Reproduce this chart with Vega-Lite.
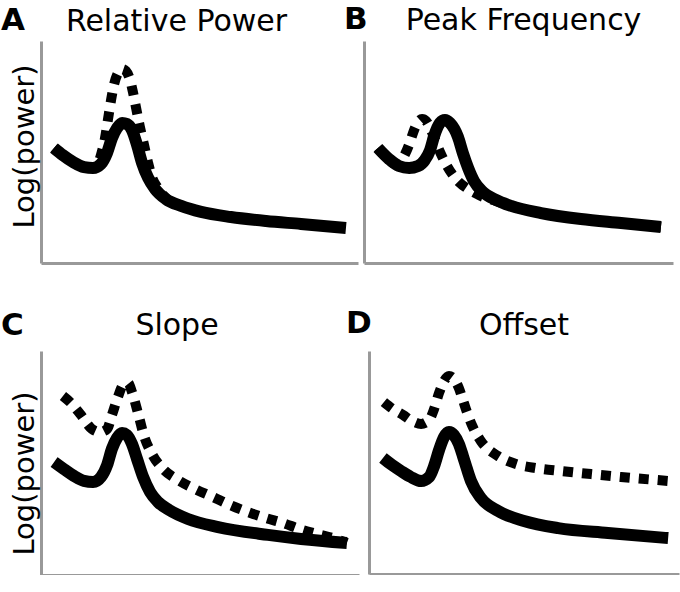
{
  "$schema": "https://vega.github.io/schema/vega-lite/v6.json",
  "padding": {"left": 0, "top": 4, "right": 0, "bottom": 0},
  "config": {
    "view": {"stroke": null},
    "axis": {"domainColor": "#999999", "domainWidth": 3, "ticks": false, "labels": false, "grid": false, "title": null,
      "titleFont": "DejaVu Sans", "titleFontSize": 29, "titleFontWeight": "normal", "titleColor": "black", "titlePadding": 2},
    "title": {"font": "DejaVu Sans", "fontSize": 30, "fontWeight": "normal", "color": "black", "frame": "group", "anchor": "middle", "baseline": "alphabetic"},
    "line": {"interpolate": "monotone", "color": "black"}
  },
  "datasets": {
    "curves": [
    {"p":"A","s":"solid","x":4.1,"y":51.8},{"p":"A","s":"solid","x":6.9,"y":48.6},{"p":"A","s":"solid","x":10.1,"y":45.5},{"p":"A","s":"solid","x":13.6,"y":43.2},{"p":"A","s":"solid","x":16.4,"y":42.8},{"p":"A","s":"solid","x":18.9,"y":44.6},{"p":"A","s":"solid","x":20.8,"y":49.5},{"p":"A","s":"solid","x":22.4,"y":56.3},{"p":"A","s":"solid","x":24.0,"y":60.8},{"p":"A","s":"solid","x":25.6,"y":63.1},{"p":"A","s":"solid","x":27.1,"y":62.6},{"p":"A","s":"solid","x":28.7,"y":59.9},{"p":"A","s":"solid","x":30.3,"y":53.2},{"p":"A","s":"solid","x":31.9,"y":45.0},{"p":"A","s":"solid","x":33.8,"y":38.3},{"p":"A","s":"solid","x":36.0,"y":33.3},{"p":"A","s":"solid","x":39.4,"y":28.8},{"p":"A","s":"solid","x":44.2,"y":25.7},{"p":"A","s":"solid","x":50.5,"y":23.0},{"p":"A","s":"solid","x":59.9,"y":20.7},{"p":"A","s":"solid","x":71.0,"y":18.9},{"p":"A","s":"solid","x":82.0,"y":17.6},{"p":"A","s":"solid","x":96.2,"y":15.8},
    {"p":"A","s":"dashed","x":4.1,"y":51.8},{"p":"A","s":"dashed","x":6.9,"y":48.6},{"p":"A","s":"dashed","x":10.1,"y":45.5},{"p":"A","s":"dashed","x":13.6,"y":43.2},{"p":"A","s":"dashed","x":16.4,"y":42.8},{"p":"A","s":"dashed","x":17.7,"y":44.1},{"p":"A","s":"dashed","x":18.9,"y":48.6},{"p":"A","s":"dashed","x":20.2,"y":56.3},{"p":"A","s":"dashed","x":21.1,"y":64.4},{"p":"A","s":"dashed","x":22.1,"y":73.4},{"p":"A","s":"dashed","x":23.0,"y":80.2},{"p":"A","s":"dashed","x":24.3,"y":85.6},{"p":"A","s":"dashed","x":25.6,"y":87.4},{"p":"A","s":"dashed","x":26.8,"y":86.5},{"p":"A","s":"dashed","x":28.1,"y":82.4},{"p":"A","s":"dashed","x":29.0,"y":77.0},{"p":"A","s":"dashed","x":30.0,"y":69.8},{"p":"A","s":"dashed","x":31.2,"y":61.3},{"p":"A","s":"dashed","x":32.5,"y":53.2},{"p":"A","s":"dashed","x":33.8,"y":45.0},{"p":"A","s":"dashed","x":35.0,"y":38.7},{"p":"A","s":"dashed","x":36.9,"y":33.8},{"p":"A","s":"dashed","x":39.4,"y":29.3},{"p":"A","s":"dashed","x":44.2,"y":25.7},{"p":"A","s":"dashed","x":50.5,"y":23.0},{"p":"A","s":"dashed","x":59.9,"y":20.7},{"p":"A","s":"dashed","x":71.0,"y":18.9},{"p":"A","s":"dashed","x":82.0,"y":17.6},{"p":"A","s":"dashed","x":96.2,"y":15.8},
    {"p":"B","s":"solid","x":4.5,"y":51.8},{"p":"B","s":"solid","x":8.1,"y":46.8},{"p":"B","s":"solid","x":11.3,"y":43.7},{"p":"B","s":"solid","x":14.6,"y":42.8},{"p":"B","s":"solid","x":17.5,"y":43.7},{"p":"B","s":"solid","x":19.7,"y":46.4},{"p":"B","s":"solid","x":21.4,"y":50.9},{"p":"B","s":"solid","x":22.7,"y":57.2},{"p":"B","s":"solid","x":24.6,"y":63.1},{"p":"B","s":"solid","x":26.2,"y":64.4},{"p":"B","s":"solid","x":27.8,"y":63.1},{"p":"B","s":"solid","x":30.4,"y":56.8},{"p":"B","s":"solid","x":32.0,"y":49.5},{"p":"B","s":"solid","x":33.7,"y":42.8},{"p":"B","s":"solid","x":35.6,"y":36.9},{"p":"B","s":"solid","x":38.5,"y":32.0},{"p":"B","s":"solid","x":42.7,"y":28.4},{"p":"B","s":"solid","x":47.6,"y":25.7},{"p":"B","s":"solid","x":57.3,"y":22.5},{"p":"B","s":"solid","x":70.2,"y":19.8},{"p":"B","s":"solid","x":83.2,"y":18.0},{"p":"B","s":"solid","x":96.1,"y":16.2},
    {"p":"B","s":"dashed","x":4.5,"y":51.8},{"p":"B","s":"dashed","x":7.4,"y":47.3},{"p":"B","s":"dashed","x":10.0,"y":44.6},{"p":"B","s":"dashed","x":11.7,"y":45.5},{"p":"B","s":"dashed","x":13.3,"y":49.1},{"p":"B","s":"dashed","x":14.9,"y":54.5},{"p":"B","s":"dashed","x":16.2,"y":59.9},{"p":"B","s":"dashed","x":17.5,"y":63.5},{"p":"B","s":"dashed","x":18.8,"y":64.9},{"p":"B","s":"dashed","x":20.1,"y":64.0},{"p":"B","s":"dashed","x":21.4,"y":60.8},{"p":"B","s":"dashed","x":23.0,"y":55.4},{"p":"B","s":"dashed","x":24.6,"y":50.0},{"p":"B","s":"dashed","x":26.5,"y":44.6},{"p":"B","s":"dashed","x":28.5,"y":40.1},{"p":"B","s":"dashed","x":30.7,"y":36.5},{"p":"B","s":"dashed","x":33.7,"y":33.3},{"p":"B","s":"dashed","x":37.2,"y":30.6},{"p":"B","s":"dashed","x":42.7,"y":27.9},{"p":"B","s":"dashed","x":47.6,"y":25.7},{"p":"B","s":"dashed","x":57.3,"y":22.5},{"p":"B","s":"dashed","x":70.2,"y":19.8},{"p":"B","s":"dashed","x":83.2,"y":18.0},{"p":"B","s":"dashed","x":96.1,"y":16.2},
    {"p":"C","s":"solid","x":4.1,"y":50.4},{"p":"C","s":"solid","x":7.2,"y":47.3},{"p":"C","s":"solid","x":10.4,"y":44.2},{"p":"C","s":"solid","x":13.5,"y":42.0},{"p":"C","s":"solid","x":16.4,"y":41.5},{"p":"C","s":"solid","x":18.9,"y":43.8},{"p":"C","s":"solid","x":20.8,"y":49.1},{"p":"C","s":"solid","x":22.3,"y":56.3},{"p":"C","s":"solid","x":23.9,"y":61.2},{"p":"C","s":"solid","x":25.5,"y":63.4},{"p":"C","s":"solid","x":27.0,"y":62.5},{"p":"C","s":"solid","x":28.6,"y":58.5},{"p":"C","s":"solid","x":30.2,"y":51.8},{"p":"C","s":"solid","x":32.1,"y":43.8},{"p":"C","s":"solid","x":34.3,"y":37.1},{"p":"C","s":"solid","x":36.8,"y":32.6},{"p":"C","s":"solid","x":40.3,"y":29.0},{"p":"C","s":"solid","x":46.2,"y":25.0},{"p":"C","s":"solid","x":55.7,"y":21.4},{"p":"C","s":"solid","x":71.4,"y":17.9},{"p":"C","s":"solid","x":81.8,"y":16.1},{"p":"C","s":"solid","x":96.2,"y":14.3},
    {"p":"C","s":"dashed","x":6.9,"y":79.9},{"p":"C","s":"dashed","x":9.4,"y":76.8},{"p":"C","s":"dashed","x":12.3,"y":71.9},{"p":"C","s":"dashed","x":16.0,"y":65.2},{"p":"C","s":"dashed","x":18.6,"y":63.8},{"p":"C","s":"dashed","x":20.8,"y":65.2},{"p":"C","s":"dashed","x":22.3,"y":71.4},{"p":"C","s":"dashed","x":24.2,"y":79.5},{"p":"C","s":"dashed","x":25.8,"y":84.8},{"p":"C","s":"dashed","x":27.4,"y":85.7},{"p":"C","s":"dashed","x":28.6,"y":81.7},{"p":"C","s":"dashed","x":30.5,"y":72.3},{"p":"C","s":"dashed","x":32.4,"y":62.1},{"p":"C","s":"dashed","x":34.9,"y":54.0},{"p":"C","s":"dashed","x":38.4,"y":47.3},{"p":"C","s":"dashed","x":43.1,"y":42.4},{"p":"C","s":"dashed","x":48.4,"y":38.4},{"p":"C","s":"dashed","x":54.1,"y":34.8},{"p":"C","s":"dashed","x":59.4,"y":31.3},{"p":"C","s":"dashed","x":65.1,"y":28.1},{"p":"C","s":"dashed","x":70.8,"y":25.4},{"p":"C","s":"dashed","x":76.1,"y":23.2},{"p":"C","s":"dashed","x":81.4,"y":20.5},{"p":"C","s":"dashed","x":86.8,"y":18.3},{"p":"C","s":"dashed","x":91.8,"y":16.5},{"p":"C","s":"dashed","x":96.2,"y":14.3},
    {"p":"D","s":"solid","x":4.5,"y":52.0},{"p":"D","s":"solid","x":7.4,"y":48.9},{"p":"D","s":"solid","x":10.3,"y":46.2},{"p":"D","s":"solid","x":13.5,"y":43.5},{"p":"D","s":"solid","x":16.8,"y":41.7},{"p":"D","s":"solid","x":19.4,"y":43.5},{"p":"D","s":"solid","x":21.0,"y":48.4},{"p":"D","s":"solid","x":22.6,"y":55.6},{"p":"D","s":"solid","x":24.2,"y":61.4},{"p":"D","s":"solid","x":25.8,"y":63.7},{"p":"D","s":"solid","x":27.4,"y":62.3},{"p":"D","s":"solid","x":29.0,"y":58.3},{"p":"D","s":"solid","x":30.3,"y":52.9},{"p":"D","s":"solid","x":31.6,"y":47.1},{"p":"D","s":"solid","x":32.9,"y":41.7},{"p":"D","s":"solid","x":36.1,"y":34.1},{"p":"D","s":"solid","x":41.6,"y":28.3},{"p":"D","s":"solid","x":50.0,"y":23.8},{"p":"D","s":"solid","x":61.0,"y":20.6},{"p":"D","s":"solid","x":77.1,"y":18.4},{"p":"D","s":"solid","x":96.5,"y":16.1},
    {"p":"D","s":"dashed","x":4.8,"y":77.1},{"p":"D","s":"dashed","x":7.7,"y":74.0},{"p":"D","s":"dashed","x":11.0,"y":71.3},{"p":"D","s":"dashed","x":13.9,"y":68.6},{"p":"D","s":"dashed","x":16.8,"y":67.3},{"p":"D","s":"dashed","x":19.4,"y":69.1},{"p":"D","s":"dashed","x":21.0,"y":74.0},{"p":"D","s":"dashed","x":22.6,"y":81.2},{"p":"D","s":"dashed","x":24.2,"y":86.5},{"p":"D","s":"dashed","x":25.8,"y":88.8},{"p":"D","s":"dashed","x":27.4,"y":87.4},{"p":"D","s":"dashed","x":29.0,"y":83.4},{"p":"D","s":"dashed","x":30.3,"y":78.0},{"p":"D","s":"dashed","x":31.6,"y":72.6},{"p":"D","s":"dashed","x":33.2,"y":66.8},{"p":"D","s":"dashed","x":36.1,"y":59.6},{"p":"D","s":"dashed","x":41.6,"y":52.9},{"p":"D","s":"dashed","x":47.4,"y":49.3},{"p":"D","s":"dashed","x":53.9,"y":47.5},{"p":"D","s":"dashed","x":61.9,"y":46.2},{"p":"D","s":"dashed","x":71.6,"y":44.8},{"p":"D","s":"dashed","x":81.3,"y":43.5},{"p":"D","s":"dashed","x":96.8,"y":41.7}
    ],
    "letters": [{"p": "A", "lx": -12.6, "ly": 105}, {"p": "B", "lx": -6.5, "ly": 105.4}, {"p": "C", "lx": -12.6, "ly": 107.1}, {"p": "D", "lx": -7.4, "ly": 108.1}]
  },
  "spacing": 44,
  "vconcat": [
    {
      "bounds": "flush",
      "spacing": 6,
      "hconcat": [
        {
          "width": 317, "height": 222,
          "title": {"text": "Relative Power", "dx": -23, "offset": -31.6},
          "layer": [
            {"data": {"name": "curves"}, "transform": [{"filter": "datum.p === 'A' && datum.s === 'dashed'"}], "mark": {"type": "line", "strokeWidth": 10, "strokeDash": [10, 9], "strokeCap": "butt"},
             "encoding": {"x": {"field": "x", "type": "quantitative", "scale": {"domain": [0, 100], "nice": false, "zero": false}}, "y": {"field": "y", "type": "quantitative", "scale": {"domain": [0, 100], "nice": false, "zero": false}, "axis": {"title": "Log(power)", "titleY": 105}}}},
            {"data": {"name": "curves"}, "transform": [{"filter": "datum.p === 'A' && datum.s === 'solid'"}], "mark": {"type": "line", "strokeWidth": 12, "strokeCap": "butt", "strokeJoin": "round"},
             "encoding": {"x": {"field": "x", "type": "quantitative"}, "y": {"field": "y", "type": "quantitative"}}},
            {"data": {"name": "letters"}, "transform": [{"filter": "datum.p === 'A'"}], "mark": {"type": "text", "clip": false, "font": "DejaVu Sans", "fontSize": 31, "fontWeight": "bold", "align": "left", "baseline": "alphabetic", "color": "black"},
             "encoding": {"text": {"field": "p", "type": "nominal"}, "x": {"field": "lx", "type": "quantitative"}, "y": {"field": "ly", "type": "quantitative"}}}
          ]
        },
        {
          "width": 309, "height": 222,
          "title": {"text": "Peak Frequency", "dx": 5, "offset": -31.5},
          "layer": [
            {"data": {"name": "curves"}, "transform": [{"filter": "datum.p === 'B' && datum.s === 'dashed'"}], "mark": {"type": "line", "strokeWidth": 10, "strokeDash": [10, 9], "strokeCap": "butt"},
             "encoding": {"x": {"field": "x", "type": "quantitative", "scale": {"domain": [0, 100], "nice": false, "zero": false}}, "y": {"field": "y", "type": "quantitative", "scale": {"domain": [0, 100], "nice": false, "zero": false}}}},
            {"data": {"name": "curves"}, "transform": [{"filter": "datum.p === 'B' && datum.s === 'solid'"}], "mark": {"type": "line", "strokeWidth": 12, "strokeCap": "butt", "strokeJoin": "round"},
             "encoding": {"x": {"field": "x", "type": "quantitative"}, "y": {"field": "y", "type": "quantitative"}}},
            {"data": {"name": "letters"}, "transform": [{"filter": "datum.p === 'B'"}], "mark": {"type": "text", "clip": false, "font": "DejaVu Sans", "fontSize": 31, "fontWeight": "bold", "align": "left", "baseline": "alphabetic", "color": "black"},
             "encoding": {"text": {"field": "p", "type": "nominal"}, "x": {"field": "lx", "type": "quantitative"}, "y": {"field": "ly", "type": "quantitative"}}}
          ]
        }
      ]
    },
    {
      "bounds": "flush",
      "spacing": 10,
      "hconcat": [
        {
          "width": 318, "height": 224,
          "title": {"text": "Slope", "dx": -23, "offset": -31.4},
          "layer": [
            {"data": {"name": "curves"}, "transform": [{"filter": "datum.p === 'C' && datum.s === 'dashed'"}], "mark": {"type": "line", "strokeWidth": 10, "strokeDash": [10, 9], "strokeCap": "butt"},
             "encoding": {"x": {"field": "x", "type": "quantitative", "scale": {"domain": [0, 100], "nice": false, "zero": false}}, "y": {"field": "y", "type": "quantitative", "scale": {"domain": [0, 100], "nice": false, "zero": false}, "axis": {"title": "Log(power)", "titleY": 122}}}},
            {"data": {"name": "curves"}, "transform": [{"filter": "datum.p === 'C' && datum.s === 'solid'"}], "mark": {"type": "line", "strokeWidth": 12, "strokeCap": "butt", "strokeJoin": "round"},
             "encoding": {"x": {"field": "x", "type": "quantitative"}, "y": {"field": "y", "type": "quantitative"}}},
            {"data": {"name": "letters"}, "transform": [{"filter": "datum.p === 'C'"}], "mark": {"type": "text", "clip": false, "font": "DejaVu Sans", "fontSize": 31, "fontWeight": "bold", "align": "left", "baseline": "alphabetic", "color": "black"},
             "encoding": {"text": {"field": "p", "type": "nominal"}, "x": {"field": "lx", "type": "quantitative"}, "y": {"field": "ly", "type": "quantitative"}}}
          ]
        },
        {
          "width": 310, "height": 223,
          "title": {"text": "Offset", "dx": 0, "offset": -32.6},
          "layer": [
            {"data": {"name": "curves"}, "transform": [{"filter": "datum.p === 'D' && datum.s === 'dashed'"}], "mark": {"type": "line", "strokeWidth": 10, "strokeDash": [10, 9], "strokeCap": "butt"},
             "encoding": {"x": {"field": "x", "type": "quantitative", "scale": {"domain": [0, 100], "nice": false, "zero": false}}, "y": {"field": "y", "type": "quantitative", "scale": {"domain": [0, 100], "nice": false, "zero": false}}}},
            {"data": {"name": "curves"}, "transform": [{"filter": "datum.p === 'D' && datum.s === 'solid'"}], "mark": {"type": "line", "strokeWidth": 12, "strokeCap": "butt", "strokeJoin": "round"},
             "encoding": {"x": {"field": "x", "type": "quantitative"}, "y": {"field": "y", "type": "quantitative"}}},
            {"data": {"name": "letters"}, "transform": [{"filter": "datum.p === 'D'"}], "mark": {"type": "text", "clip": false, "font": "DejaVu Sans", "fontSize": 31, "fontWeight": "bold", "align": "left", "baseline": "alphabetic", "color": "black"},
             "encoding": {"text": {"field": "p", "type": "nominal"}, "x": {"field": "lx", "type": "quantitative"}, "y": {"field": "ly", "type": "quantitative"}}}
          ]
        }
      ]
    }
  ]
}
